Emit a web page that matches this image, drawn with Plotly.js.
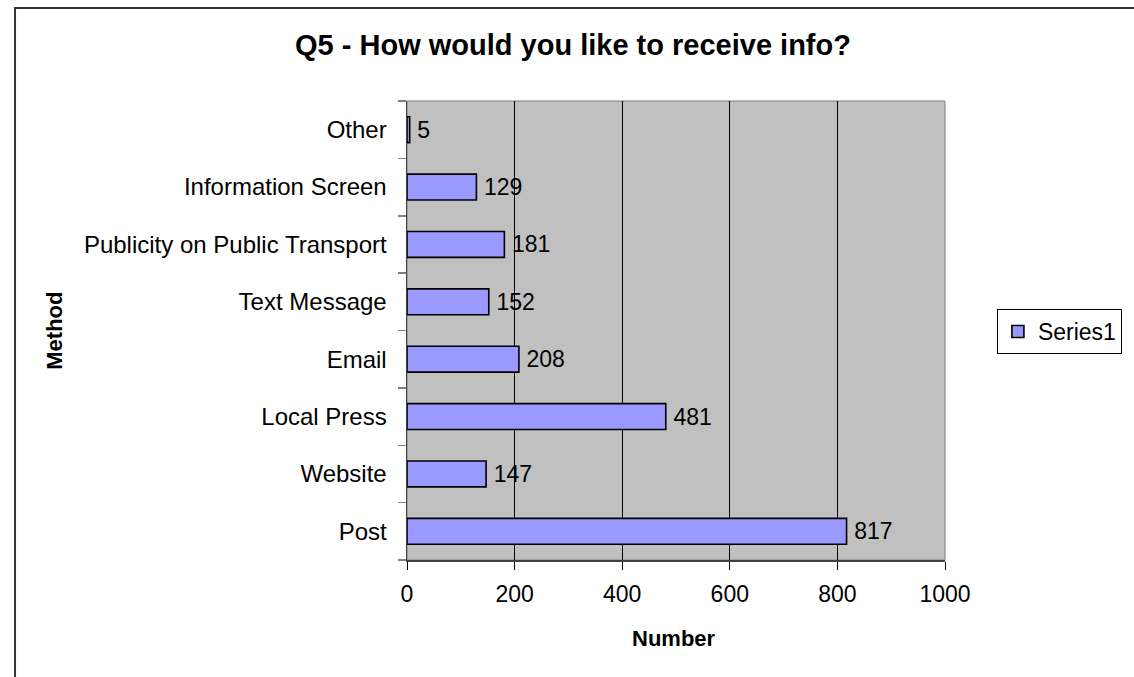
<!DOCTYPE html>
<html>
<head>
<meta charset="utf-8">
<script src="https://cdn.plot.ly/plotly-3.0.1.min.js"></script>
<style>html,body{margin:0;padding:0;background:#fff;}#chart{width:1134px;height:677px;}</style>
</head>
<body>
<div id="chart"></div>
<script>
const categories = ["Post", "Website", "Local Press", "Email", "Text Message", "Publicity on Public Transport", "Information Screen", "Other"];
const values = [817, 147, 481, 208, 152, 181, 129, 5];
const seriesName = "Series1";
const xTicks = [0, 200, 400, 600, 800, 1000];
const titleText = "Q5 - How would you like to receive info?";
const xTitle = "Number";
const yTitle = "Method";

const FONT = "Liberation Sans, Arial, sans-serif";

const trace = {
  type: "bar",
  orientation: "h",
  name: seriesName,
  y: categories,
  x: values,
  width: 0.45,
  marker: {color: "#9999FF", line: {color: "#000000", width: 1.6}},
  text: values.map(v => "\u2009" + v),
  textposition: "outside",
  constraintext: "none",
  cliponaxis: false,
  textfont: {family: FONT, size: 23, color: "#000"},
  hoverinfo: "x+y"
};

const layout = {
  width: 1134, height: 677,
  margin: {l: 407, r: 178, t: 101, b: 117, pad: 0},
  paper_bgcolor: "#ffffff",
  plot_bgcolor: "#C0C0C0",
  font: {family: FONT, size: 23, color: "#000"},
  title: {text: "<b>" + titleText + "</b>", font: {family: FONT, size: 29, color: "#000"},
          x: 573/1134, xref: "container", xanchor: "center", y: 1 - 45/677, yref: "container", yanchor: "middle"},
  showlegend: true,
  legend: {x: 1.0965, y: 0.5468, xanchor: "left", yanchor: "top", bordercolor: "#000", borderwidth: 1,
           font: {family: FONT, size: 23, color: "#000"}, bgcolor: "#fff"},
  xaxis: {
    range: [0, 1000], tickvals: xTicks, ticktext: xTicks.map(String),
    showgrid: true, gridcolor: "#000", gridwidth: 1, zeroline: false,
    showline: true, linecolor: "#404040", linewidth: 1.5,
    ticks: "outside", ticklen: 8, tickcolor: "#000", tickwidth: 1,
    tickfont: {family: FONT, size: 23, color: "#000"},
    ticklabelstandoff: 5, fixedrange: true
  },
  yaxis: {
    type: "category", categoryorder: "array", categoryarray: categories,
    range: [-0.5, 7.5],
    showgrid: false, zeroline: false,
    showline: true, linecolor: "#404040", linewidth: 1.5,
    ticks: "outside", tickson: "boundaries", ticklen: 8, tickcolor: "#808080", tickwidth: 1.5,
    tickfont: {family: FONT, size: 24, color: "#000"},
    ticklabelstandoff: 14, fixedrange: true
  },
  shapes: [
    {type: "rect", xref: "paper", yref: "paper", x0: 0, x1: 1, y0: 0, y1: 1,
     line: {color: "#808080", width: 1}, fillcolor: "rgba(0,0,0,0)", layer: "below"},
    {type: "rect", xref: "paper", yref: "paper", x0: -0.7286, x1: 1.5, y0: -0.4, y1: 1.2026,
     line: {color: "#333", width: 2}, fillcolor: "rgba(0,0,0,0)"}
  ],
  annotations: [
    {text: "<b>" + yTitle + "</b>", xref: "paper", yref: "paper", x: -0.6557, y: 0.5,
     xanchor: "center", yanchor: "middle", textangle: -90, showarrow: false,
     font: {family: FONT, size: 22, color: "#000"}},
    {text: "<b>" + xTitle + "</b>", xref: "paper", yref: "paper", x: 0.497, y: -0.17,
     xanchor: "center", yanchor: "middle", showarrow: false,
     font: {family: FONT, size: 22, color: "#000"}}
  ]
};

Plotly.newPlot("chart", [trace], layout, {displayModeBar: false, staticPlot: true});
</script>
</body>
</html>
